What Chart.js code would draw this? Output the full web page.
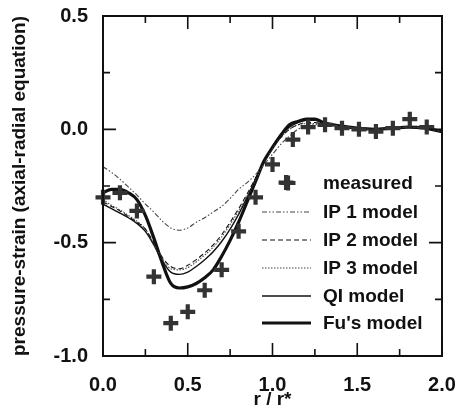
<!DOCTYPE html>
<html><head><meta charset="utf-8">
<script src="https://cdn.jsdelivr.net/npm/chart.js@4.4.1/dist/chart.umd.min.js"></script>
<style>html,body{margin:0;padding:0;background:#fff;}#wrap{width:457px;height:416px;}</style>
</head><body><div id="wrap"><canvas id="c" width="457" height="416"></canvas></div>
<script>
const xModel = [0,0.05,0.1,0.15,0.2,0.25,0.3,0.35,0.4,0.45,0.5,0.55,0.6,0.65,0.7,0.75,0.8,0.85,0.9,0.95,1.0,1.05,1.1,1.15,1.2,1.25,1.3,1.4,1.5,1.6,1.7,1.8,1.9,2.0];
const ip1 = [-0.165,-0.19,-0.22,-0.255,-0.29,-0.33,-0.365,-0.405,-0.435,-0.445,-0.435,-0.41,-0.39,-0.365,-0.34,-0.305,-0.265,-0.235,-0.2,-0.155,-0.11,-0.065,-0.03,0.0,0.015,0.02,0.02,0.015,0.005,0.0,0.005,0.01,0.005,-0.01];
const ip2 = [-0.32,-0.34,-0.36,-0.385,-0.41,-0.44,-0.50,-0.565,-0.605,-0.615,-0.60,-0.575,-0.545,-0.51,-0.465,-0.41,-0.35,-0.285,-0.215,-0.145,-0.08,-0.035,0.0,0.02,0.03,0.03,0.025,0.015,0.005,0.0,0.005,0.01,0.005,-0.01];
const ip3 = [-0.31,-0.335,-0.355,-0.38,-0.405,-0.44,-0.505,-0.57,-0.615,-0.62,-0.61,-0.585,-0.555,-0.52,-0.475,-0.42,-0.36,-0.295,-0.225,-0.15,-0.085,-0.035,0.0,0.02,0.025,0.025,0.02,0.01,0.005,0.0,0.005,0.01,0.005,-0.01];
const qi = [-0.33,-0.35,-0.37,-0.39,-0.415,-0.45,-0.51,-0.58,-0.63,-0.64,-0.63,-0.605,-0.575,-0.54,-0.495,-0.44,-0.375,-0.30,-0.22,-0.145,-0.075,-0.025,0.01,0.03,0.04,0.04,0.03,0.015,0.005,0.0,0.005,0.01,0.005,-0.01];
const fu = [-0.28,-0.265,-0.265,-0.28,-0.31,-0.38,-0.48,-0.59,-0.68,-0.70,-0.695,-0.68,-0.655,-0.62,-0.56,-0.49,-0.41,-0.32,-0.23,-0.14,-0.08,-0.025,0.02,0.035,0.045,0.045,0.03,0.015,0.005,0.0,0.005,0.01,0.005,-0.01];
const measX = [0,0.1,0.2,0.3,0.4,0.5,0.6,0.7,0.8,0.9,1.0,1.08,1.12,1.21,1.31,1.41,1.51,1.61,1.71,1.81,1.91];
const measY = [-0.30,-0.28,-0.36,-0.65,-0.855,-0.805,-0.71,-0.62,-0.45,-0.30,-0.155,-0.235,-0.045,0.01,0.02,0.005,0.0,-0.01,0.005,0.045,0.01];
const legendLabels = ['measured','IP 1 model','IP 2 model','IP 3 model','QI model',"Fu's model"];
const xTickValues = [0,0.5,1.0,1.5,2.0];
const yTickValues = [-1.0,-0.5,0.0,0.5];

const pts = (xs, ys) => xs.map((x,i)=>({x:x,y:ys[i]}));
const lineDs = (label, ys, color, width, dash) => ({
  label, data: pts(xModel, ys), showLine: true, borderColor: color, borderWidth: width,
  borderDash: dash, pointRadius: 0, cubicInterpolationMode: 'monotone', fill: false
});

const FONT = "'Liberation Sans', Arial, sans-serif";

const framePlugin = {
  id: 'frame',
  afterDatasetsDraw(chart) {
    const {ctx, chartArea: a, scales: {x, y}} = chart;
    ctx.save();
    ctx.strokeStyle = '#111';
    ctx.lineWidth = 2;
    ctx.strokeRect(a.left, a.top, a.right - a.left, a.bottom - a.top);
    ctx.lineWidth = 1.6;
    ctx.beginPath();
    for (let v = 0; v <= 2.0001; v += 0.25) {
      const px = x.getPixelForValue(v);
      const len = (Math.abs(v*2 - Math.round(v*2)) < 1e-6) ? 13 : 7;
      ctx.moveTo(px, a.bottom); ctx.lineTo(px, a.bottom - len);
      ctx.moveTo(px, a.top); ctx.lineTo(px, a.top + len);
    }
    for (let v = -1; v <= 0.5001; v += 0.25) {
      const py = y.getPixelForValue(v);
      const len = (Math.abs(v*2 - Math.round(v*2)) < 1e-6) ? 13 : 7;
      ctx.moveTo(a.left, py); ctx.lineTo(a.left + len, py);
      ctx.moveTo(a.right, py); ctx.lineTo(a.right - len, py);
    }
    ctx.stroke();
    // legend
    const rows = [183, 212, 240, 268, 296, 323];
    ctx.font = 'bold 19px ' + FONT;
    ctx.textBaseline = 'middle';
    ctx.fillStyle = '#111';
    chart.data.datasets.forEach((ds, i) => {
      const yy = rows[i];
      if (ds.showLine) {
        ctx.save();
        ctx.strokeStyle = ds.borderColor;
        ctx.lineWidth = ds.borderWidth;
        ctx.setLineDash(ds.borderDash || []);
        ctx.beginPath(); ctx.moveTo(262, yy); ctx.lineTo(311, yy); ctx.stroke();
        ctx.restore();
      } else {
        ctx.save();
        ctx.strokeStyle = ds.borderColor;
        ctx.lineWidth = ds.borderWidth;
        const r = ds.pointRadius;
        ctx.beginPath();
        ctx.moveTo(288 - r, yy); ctx.lineTo(288 + r, yy);
        ctx.moveTo(288, yy - r); ctx.lineTo(288, yy + r);
        ctx.stroke();
        ctx.restore();
      }
      ctx.fillText(legendLabels[i], 323, yy + 1);
    });
    ctx.restore();
  }
};

new Chart(document.getElementById('c'), {
  type: 'scatter',
  data: {
    datasets: [
      { label: legendLabels[0], data: pts(measX, measY), showLine: false, pointStyle: 'cross',
        pointRadius: 7.5, borderWidth: 4.2, borderColor: '#333', backgroundColor: '#333', clip: false },
      lineDs(legendLabels[1], ip1, '#444', 1.1, [5,2,1.5,2,1.5,2]),
      lineDs(legendLabels[2], ip2, '#111', 1.1, [5,3]),
      lineDs(legendLabels[3], ip3, '#444', 1.1, [1.5,1.5]),
      lineDs(legendLabels[4], qi, '#111', 1.4, []),
      lineDs(legendLabels[5], fu, '#111', 3.2, [])
    ]
  },
  options: {
    responsive: false,
    animation: false,
    devicePixelRatio: 1,
    layout: { padding: { left: 0, right: 15, top: 16, bottom: 0 } },
    plugins: { legend: { display: false }, tooltip: { enabled: false } },
    scales: {
      x: {
        type: 'linear', min: 0, max: 2,
        afterFit(s) { s.height = 60; s.paddingLeft = 0; s.paddingRight = 0; },
        afterBuildTicks(s) { s.ticks = xTickValues.map(v => ({value: v})); },
        grid: { display: false, drawTicks: false },
        border: { display: false },
        ticks: { padding: 17, color: '#111', font: { family: FONT, size: 20, weight: 'bold' },
          callback: v => Number(v).toFixed(1), maxRotation: 0 },
        title: { display: true, text: 'r / r*', color: '#111', padding: 5,
          font: { family: FONT, size: 19, weight: 'bold' } }
      },
      y: {
        type: 'linear', min: -1, max: 0.5,
        afterFit(s) { s.width = 103; s.paddingTop = 0; s.paddingBottom = 0; },
        afterBuildTicks(s) { s.ticks = yTickValues.map(v => ({value: v})); },
        grid: { display: false, drawTicks: false },
        border: { display: false },
        ticks: { padding: 15, color: '#111', font: { family: FONT, size: 20, weight: 'bold' },
          callback: v => Number(v).toFixed(1) },
        title: { display: true, text: 'pressure-strain (axial-radial equation)', color: '#111', padding: 8,
          font: { family: FONT, size: 19, weight: 'bold' } }
      }
    }
  },
  plugins: [framePlugin]
});
</script>
</body></html>
